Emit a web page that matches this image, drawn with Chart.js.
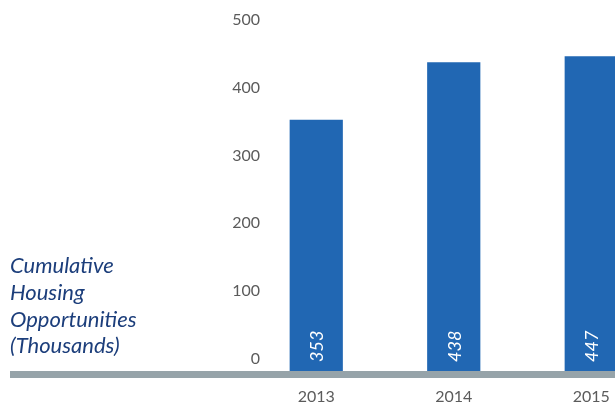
<!DOCTYPE html>
<html>
<head>
<meta charset="utf-8">
<script src="https://cdn.jsdelivr.net/npm/chart.js@4"></script>
<style>
  html, body { margin: 0; padding: 0; background: #ffffff; overflow: hidden; }
  #wrap { position: relative; width: 660px; height: 403px; }
</style>
</head>
<body>
<div id="wrap"><canvas id="chart"></canvas></div>
<script>
// Cumulative housing opportunities, thousands
const years = ['2013', '2014', '2015'];
const opportunities = [353, 438, 447];
const yTickValues = [0, 100, 200, 300, 400, 500];
const titleLines = ['Cumulative', 'Housing', 'Opportunities', '(Thousands)'];

const Y_MIN = -18.2;
const Y_MAX = 500;
const BAR_BLUE = '#2167b3';
const BASE_GREY = '#96a3a9';
const TICK_GREY = '#5b5b5b';
const NAVY = '#1c3e7b';

// Side title, grey base strip and the rotated value labels inside each bar
const decorations = {
  id: 'decorations',
  afterDatasetsDraw(chart) {
    const { ctx } = chart;
    const y = chart.scales.y;
    const baseTop = y.getPixelForValue(Y_MIN);

    ctx.save();
    ctx.fillStyle = BASE_GREY;
    ctx.fillRect(10, baseTop, chart.width - 10, 7);

    ctx.fillStyle = NAVY;
    ctx.font = 'italic 22px Lato';
    ctx.textAlign = 'left';
    ctx.textBaseline = 'alphabetic';
    const baselines = [272.5, 299.5, 326.5, 353];
    titleLines.forEach((line, i) => ctx.fillText(line, 10, baselines[i]));

    const meta = chart.getDatasetMeta(0);
    ctx.fillStyle = '#ffffff';
    ctx.font = 'italic 18px Lato';
    meta.data.forEach((bar, i) => {
      ctx.save();
      ctx.translate(bar.x + 1, baseTop - 9);
      ctx.rotate(-Math.PI / 2);
      ctx.textAlign = 'left';
      ctx.textBaseline = 'middle';
      ctx.fillText(String(opportunities[i]), 0, 0);
      ctx.restore();
    });
    ctx.restore();
  }
};

new Chart(document.getElementById('chart'), {
  type: 'bar',
  data: {
    labels: years,
    datasets: [{
      data: opportunities,
      base: Y_MIN,
      backgroundColor: BAR_BLUE,
      borderWidth: 0,
      categoryPercentage: 1,
      barPercentage: 0.387
    }]
  },
  options: {
    responsive: true,
    maintainAspectRatio: false,
    animation: false,
    events: [],
    layout: { padding: { top: 20.3, left: 0, right: 0, bottom: 0 } },
    plugins: {
      legend: { display: false },
      tooltip: { enabled: false },
      title: { display: false }
    },
    scales: {
      x: {
        grid: { display: false, drawTicks: false },
        border: { display: false },
        ticks: {
          color: TICK_GREY,
          font: { family: 'Lato', size: 16 },
          padding: 16,
          maxRotation: 0
        },
        afterFit(scale) { scale.height = 32; }
      },
      y: {
        min: Y_MIN,
        max: Y_MAX,
        grid: { display: false, drawTicks: false },
        border: { display: false },
        afterBuildTicks(scale) {
          scale.ticks = yTickValues.map(v => ({ value: v }));
        },
        ticks: {
          color: TICK_GREY,
          font: { family: 'Lato', size: 16 },
          mirror: true,
          crossAlign: 'far',
          padding: -15.3
        },
        afterFit(scale) { scale.width = 247.5; }
      }
    }
  },
  plugins: [decorations]
});
</script>
</body>
</html>
